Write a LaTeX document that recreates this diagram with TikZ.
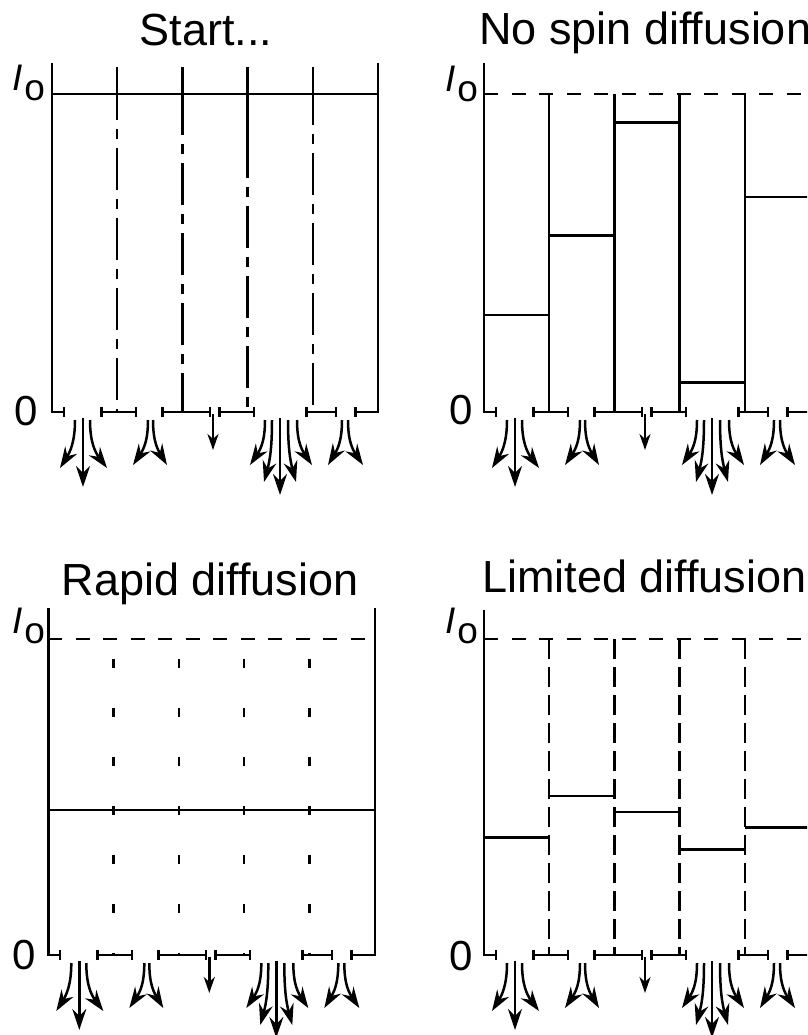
\documentclass[tikz,border=0pt]{standalone}
\usepackage{fontspec}
\setmainfont{Liberation Sans}
\usetikzlibrary{arrows.meta}

\tikzset{
  lw/.style={line width=2.5pt},
  wall/.style={lw, line join=miter},
  leftwall/.style={wall, -{Bar[width=10pt]}},
  rightwall/.style={wall, {Bar[width=10pt]}-},
  barseg/.style={lw, {Bar[width=10pt]}-{Bar[width=10pt]}},
  flow/.style={lw, -{Stealth[length=21pt,width=14pt,inset=7pt]}},
  shortflow/.style={lw, -{Stealth[length=16pt,width=11pt,inset=5pt]}},
  ioline/.style={lw, dash pattern=on 14pt off 13.5pt},
  dashdot/.style={lw, dash pattern=on 42pt off 9pt on 10pt off 9pt, dash phase=42pt},
  sparse/.style={lw, dash pattern=on 9pt off 40pt, dash phase=29pt},
  longdash/.style={lw, dash pattern=on 20pt off 8pt},
  title/.style={font=\fontsize{45}{52}\selectfont, inner sep=0pt},
  ilabel/.style={font=\fontsize{37}{42}\selectfont, inner sep=0pt, anchor=base west},
  zlabel/.style={font=\fontsize{42}{48}\selectfont, inner sep=0pt},
  % outlet slits under the cells and the magnetisation flowing out of them
  outlets/.pic={
    \draw[barseg] (48,0) -- (85,0);
    \draw[barseg] (109,0) -- (159,0);
    \draw[barseg] (166,0) -- (203,0);
    \draw[barseg] (253,0) -- (285,0);
    % slit 1
    \draw[flow] (23,8) .. controls (23,30) and (18,40) .. (8,56);
    \draw[flow] (31,6) -- (31,75);
    \draw[flow] (38,8) .. controls (38,30) and (43,40) .. (55,56);
    % slit 2
    \draw[flow] (96,8) .. controls (96,30) and (91,38) .. (81,53);
    \draw[flow] (101,8) .. controls (101,30) and (106,38) .. (115,53);
    % slit 3
    \draw[shortflow] (161,2) -- (161,38);
    % slit 4
    \draw[flow] (213,8) .. controls (213,30) and (208,38) .. (198,53);
    \draw[flow] (220,8) .. controls (220,35) and (218,48) .. (212,70);
    \draw[flow] (228,6) -- (228,83);
    \draw[flow] (236,8) .. controls (236,35) and (238,48) .. (244,70);
    \draw[flow] (245,8) .. controls (245,30) and (250,38) .. (260,53);
    % slit 5
    \draw[flow] (290,8) .. controls (290,30) and (285,38) .. (276,53);
    \draw[flow] (296,8) .. controls (296,30) and (301,38) .. (311,53);
  },
  % the two outer walls of a panel
  walls/.pic={
    \draw[leftwall] (0,-349) -- (0,0) -- (13,0);
    \draw[rightwall] (302,0) -- (326,0) -- (326,-349);
  }
}

\begin{document}
\begin{tikzpicture}[x=1pt, y=-1pt]
\useasboundingbox (0,0) rectangle (807,1035);
\clip (0,0) rectangle (807,1035);

% ---------- Start ----------
\node[title, anchor=base] (tStart) at (206,46) {Start...};
\node[ilabel] (ioA) at (12,91) {\itshape I\upshape\kern2pt\raisebox{-10pt}{o}};
\node[zlabel] (zA) at (26,411) {0};
\begin{scope}[shift={(52,412)}]
  \pic {walls};
  \draw[lw] (0,-318) -- (326,-318);
  \foreach \k/\s in {1/-292, 2/-277, 3/-234, 4/-287} {
    \draw[lw] (65.2*\k,-345) -- (65.2*\k,\s);
    \draw[dashdot] (65.2*\k,\s) -- (65.2*\k,0);
  }
  \pic {outlets};
\end{scope}

% ---------- No spin diffusion ----------
\node[title, anchor=base west] (tNone) at (479,45) {No spin diffusion};
\node[ilabel] (ioB) at (445,92) {\itshape I\upshape\kern2pt\raisebox{-10pt}{o}};
\node[zlabel] (zB) at (461,410) {0};
\begin{scope}[shift={(484,412)}]
  \pic {walls};
  \draw[ioline] (0,-318) -- (330,-318);
  \foreach \k in {1,...,4}
    \draw[lw] (65.2*\k,-318) -- (65.2*\k,0);
  \foreach \lv [count=\i] in {-97,-176.3,-289.7,-29.7,-215}
    \draw[lw] (65.2*\i-65.2,\lv) -- (65.2*\i,\lv);
  \pic {outlets};
\end{scope}

% ---------- Rapid diffusion ----------
\node[title, anchor=base] (tRapid) at (210,595) {Rapid diffusion};
\node[ilabel] (ioC) at (12,633) {\itshape I\upshape\kern2pt\raisebox{-10pt}{o}};
\node[zlabel] (zC) at (24,955) {0};
\begin{scope}[shift={(48.3,955)}]
  \draw[leftwall] (0,-347) -- (0,0) -- (13,0);
  \draw[rightwall] (302,0) -- (326.7,0) -- (326.7,-347);
  \draw[ioline] (0,-316) -- (326.7,-316);
  \draw[lw] (0,-145) -- (326.7,-145);
  \foreach \k in {1,...,4}
    \draw[sparse] (65.3*\k,-316) -- (65.3*\k,0);
  \pic {outlets};
\end{scope}

% ---------- Limited diffusion ----------
\node[title, anchor=base west] (tLimited) at (482,592) {Limited diffusion};
\node[ilabel] (ioD) at (445,633) {\itshape I\upshape\kern2pt\raisebox{-10pt}{o}};
\node[zlabel] (zD) at (461,956) {0};
\begin{scope}[shift={(484,955)}]
  \draw[leftwall] (0,-345) -- (0,0) -- (13,0);
  \draw[rightwall] (302,0) -- (326,0) -- (326,-345);
  \draw[ioline] (0,-316) -- (330,-316);
  \foreach \k in {1,...,4}
    \draw[longdash] (65.2*\k,-316) -- (65.2*\k,0);
  \foreach \lv [count=\i] in {-117.7,-159,-143,-105.3,-127.3}
    \draw[lw] (65.2*\i-65.2,\lv) -- (65.2*\i,\lv);
  \pic {outlets};
\end{scope}
\end{tikzpicture}
\end{document}
